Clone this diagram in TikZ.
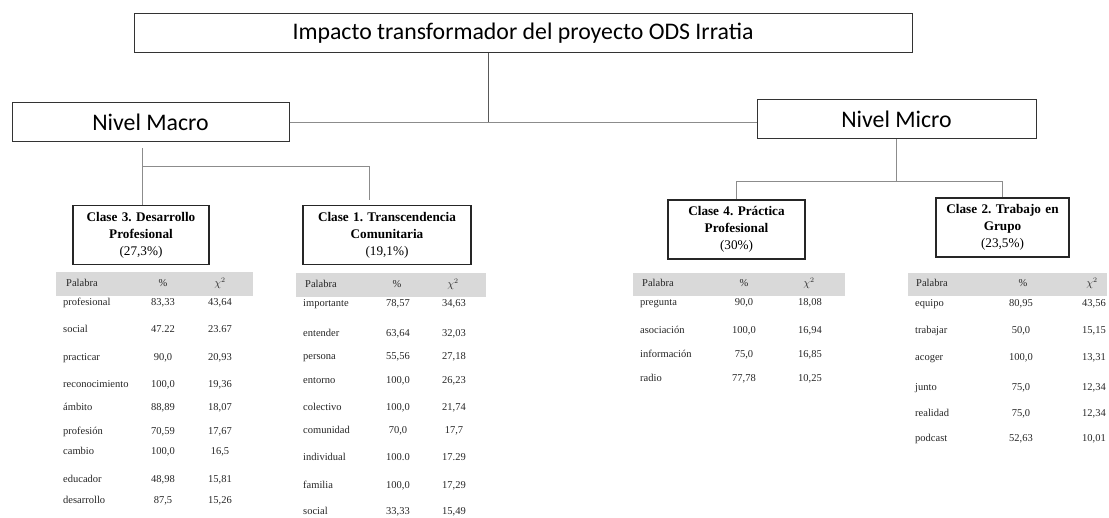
\documentclass[tikz,border=0pt]{standalone}
\usepackage{fontspec}
\setmainfont{Liberation Serif}
\newfontfamily\calib{Carlito}
\usetikzlibrary{positioning}
\usetikzlibrary{calc}
\frenchspacing

\begin{document}
\begin{tikzpicture}[x=1pt,y=-1pt,
                    link/.style={draw=black!45,line width=0.8pt},
                    top node/.style={rectangle,draw=black!80,line width=1pt,inner sep=0pt,minimum height=39pt,font=\calib\fontsize{23.8}{28}\selectfont},
                    class node/.style={rectangle,draw=black!85,line width=1.1pt,inner sep=0pt,align=center,minimum height=59pt,font=\fontsize{13.2}{17}\selectfont},
                    band/.style={fill=black!15},
                    cell/.style={inner sep=0pt,text height=7.5pt,text depth=2.5pt,text=black!85,font=\fontsize{10.5}{12}\selectfont},
                    word/.style={cell,anchor=west},
                    num/.style={cell,anchor=center}]
\useasboundingbox (0,0) rectangle (1109,518);

% main boxes
\node[top node,minimum width=778pt] (title) at (523,33.5) {Impacto transformador del proyecto ODS Irratia};
\node[top node,minimum width=277pt] (macro) at (150.5,122.5) {Nivel Macro};
\node[top node,minimum width=279pt] (micro) at (896.5,119.5) {Nivel Micro};

\node[class node,minimum width=136pt,text width=130pt] (c3) at (141,235) {\textbf{Clase 3. Desarrollo}\\\textbf{Profesional}\\(27,3\%)};
\node[class node,minimum width=168pt,text width=160pt] (c1) at (387,235) {\textbf{Clase 1. Transcendencia}\\\textbf{Comunitaria}\\(19,1\%)};
\node[class node,minimum width=137pt,text width=130pt] (c4) at (736.5,229.5) {\textbf{Clase 4. Práctica}\\\textbf{Profesional}\\(30\%)};
\node[class node,minimum width=133pt,text width=126pt] (c2) at (1002.5,227.5) {\textbf{Clase 2. Trabajo en}\\\textbf{Grupo}\\(23,5\%)};

% connectors
\coordinate (tj) at (488,122.5);
\coordinate (mj) at (142,166);
\coordinate (mk) at (369,166);
\coordinate (nj) at (896,181);
\draw[link,draw=black!65] (title.south -| tj) -- (tj);
\draw[link] (macro.east) -- (macro.east -| micro.west);
\draw[link,shorten <=6pt] (macro.south -| mj) -- (c3.north -| mj);
\draw[link,shorten >=5pt] (mj) -- (mk) -- (c1.north -| mk);
\draw[link] (micro.south -| nj) -- (nj);
\draw[link] (c4.north) -- (c4.north |- nj) -- (c2.north |- nj) -- (c2.north);

% table headers
\fill[band] (56,272) rectangle (253,296);
\fill[band] (296,273) rectangle (486,297);
\fill[band] (633,273) rectangle (845,296);
\fill[band] (908,273) rectangle (1107,296);
\node[word] (h3w) at (66,284) {Palabra};   \node[num] (h3p) at (163,284) {\%};  \node[num] (h3x) at (220,284) {$\chi^2$};
\node[word] (h1w) at (305,285) {Palabra};  \node[num] (h1p) at (397,285) {\%};  \node[num] (h1x) at (453,285) {$\chi^2$};
\node[word] (h4w) at (642,284) {Palabra};  \node[num] (h4p) at (744,284) {\%};  \node[num] (h4x) at (809,284) {$\chi^2$};
\node[word] (h2w) at (916,284) {Palabra};  \node[num] (h2p) at (1023,284) {\%}; \node[num] (h2x) at (1092,284) {$\chi^2$};

% Clase 3
\node[word] (c3w1) at (63,303) {profesional};    \node[num] (c3p1) at (163,303) {83,33}; \node[num] (c3x1) at (220,303) {43,64};
\node[word] (c3w2) at (63,330) {social};         \node[num] (c3p2) at (163,330) {47.22}; \node[num] (c3x2) at (220,330) {23.67};
\node[word] (c3w3) at (63,358) {practicar};      \node[num] (c3p3) at (163,358) {90,0};  \node[num] (c3x3) at (220,358) {20,93};
\node[word] (c3w4) at (63,385) {reconocimiento}; \node[num] (c3p4) at (163,385) {100,0}; \node[num] (c3x4) at (220,385) {19,36};
\node[word] (c3w5) at (63,408) {ámbito};         \node[num] (c3p5) at (163,408) {88,89}; \node[num] (c3x5) at (220,408) {18,07};
\node[word] (c3w6) at (63,432) {profesión};      \node[num] (c3p6) at (163,432) {70,59}; \node[num] (c3x6) at (220,432) {17,67};
\node[word] (c3w7) at (63,452) {cambio};         \node[num] (c3p7) at (163,452) {100,0}; \node[num] (c3x7) at (220,452) {16,5};
\node[word] (c3w8) at (63,480) {educador};       \node[num] (c3p8) at (163,480) {48,98}; \node[num] (c3x8) at (220,480) {15,81};
\node[word] (c3w9) at (63,501) {desarrollo};     \node[num] (c3p9) at (163,501) {87,5};  \node[num] (c3x9) at (220,501) {15,26};

% Clase 1
\node[word] (c1w1) at (303,304) {importante}; \node[num] (c1p1) at (398,304) {78,57}; \node[num] (c1x1) at (454,304) {34,63};
\node[word] (c1w2) at (303,334) {entender};   \node[num] (c1p2) at (398,334) {63,64}; \node[num] (c1x2) at (454,334) {32,03};
\node[word] (c1w3) at (303,357) {persona};    \node[num] (c1p3) at (398,357) {55,56}; \node[num] (c1x3) at (454,357) {27,18};
\node[word] (c1w4) at (303,381) {entorno};    \node[num] (c1p4) at (398,381) {100,0}; \node[num] (c1x4) at (454,381) {26,23};
\node[word] (c1w5) at (303,408) {colectivo};  \node[num] (c1p5) at (398,408) {100,0}; \node[num] (c1x5) at (454,408) {21,74};
\node[word] (c1w6) at (303,431) {comunidad};  \node[num] (c1p6) at (398,431) {70,0};  \node[num] (c1x6) at (454,431) {17,7};
\node[word] (c1w7) at (303,458) {individual}; \node[num] (c1p7) at (398,458) {100.0}; \node[num] (c1x7) at (454,458) {17.29};
\node[word] (c1w8) at (303,486) {familia};    \node[num] (c1p8) at (398,486) {100,0}; \node[num] (c1x8) at (454,486) {17,29};
\node[word] (c1w9) at (303,512) {social};     \node[num] (c1p9) at (398,512) {33,33}; \node[num] (c1x9) at (454,512) {15,49};

% Clase 4
\node[word] (c4w1) at (640,303) {pregunta};    \node[num] (c4p1) at (744,303) {90,0};  \node[num] (c4x1) at (810,303) {18,08};
\node[word] (c4w2) at (640,331) {asociación};  \node[num] (c4p2) at (744,331) {100,0}; \node[num] (c4x2) at (810,331) {16,94};
\node[word] (c4w3) at (640,355) {información}; \node[num] (c4p3) at (744,355) {75,0};  \node[num] (c4x3) at (810,355) {16,85};
\node[word] (c4w4) at (640,379) {radio};       \node[num] (c4p4) at (744,379) {77,78}; \node[num] (c4x4) at (810,379) {10,25};

% Clase 2
\node[word] (c2w1) at (915,304) {equipo};   \node[num] (c2p1) at (1021,304) {80,95}; \node[num] (c2x1) at (1094,304) {43,56};
\node[word] (c2w2) at (915,331) {trabajar}; \node[num] (c2p2) at (1021,331) {50,0};  \node[num] (c2x2) at (1094,331) {15,15};
\node[word] (c2w3) at (915,358) {acoger};   \node[num] (c2p3) at (1021,358) {100,0}; \node[num] (c2x3) at (1094,358) {13,31};
\node[word] (c2w4) at (915,388) {junto};    \node[num] (c2p4) at (1021,388) {75,0};  \node[num] (c2x4) at (1094,388) {12,34};
\node[word] (c2w5) at (915,414) {realidad}; \node[num] (c2p5) at (1021,414) {75,0};  \node[num] (c2x5) at (1094,414) {12,34};
\node[word] (c2w6) at (915,439) {podcast};  \node[num] (c2p6) at (1021,439) {52,63}; \node[num] (c2x6) at (1094,439) {10,01};
\end{tikzpicture}
\end{document}
